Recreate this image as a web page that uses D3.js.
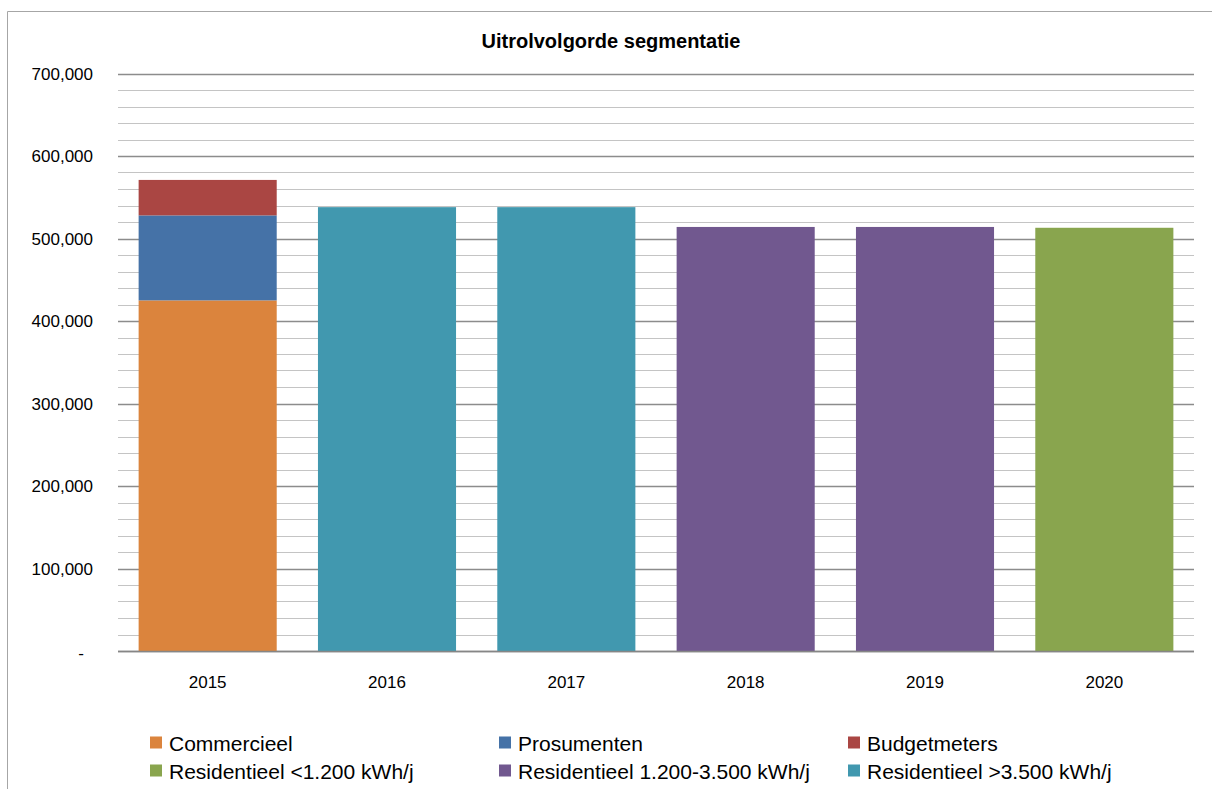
<!DOCTYPE html>
<html>
<head>
<meta charset="utf-8">
<script src="https://cdn.jsdelivr.net/npm/d3@7"></script>
<style>
  html, body { margin: 0; padding: 0; background: #ffffff; }
  svg { display: block; }
  text { font-family: "Liberation Sans", Arial, sans-serif; fill: #000; }
</style>
</head>
<body>
<svg id="chart" width="1212" height="789"></svg>
<script>
const years = ["2015", "2016", "2017", "2018", "2019", "2020"];
const seriesNames = ["Commercieel", "Prosumenten", "Budgetmeters",
  "Residentieel <1.200 kWh/j", "Residentieel 1.200-3.500 kWh/j", "Residentieel >3.500 kWh/j"];
const commercieel  = [425000, 0, 0, 0, 0, 0];
const prosumenten  = [103000, 0, 0, 0, 0, 0];
const budgetmeters = [43000, 0, 0, 0, 0, 0];
const resLow       = [0, 0, 0, 0, 0, 513000];
const resMid       = [0, 0, 0, 514000, 514000, 0];
const resHigh      = [0, 538000, 538000, 0, 0, 0];
const seriesColors = ["#DB843D", "#4572A7", "#AA4643", "#89A54E", "#71588F", "#4198AF"];
const yTickLabels = ["-", "100,000", "200,000", "300,000", "400,000", "500,000", "600,000", "700,000"];
const chartTitle = "Uitrolvolgorde segmentatie";

const seriesValues = [commercieel, prosumenten, budgetmeters, resLow, resMid, resHigh];
const table = years.map((yr, i) => {
  const row = { year: yr };
  seriesNames.forEach((s, k) => { row[s] = seriesValues[k][i]; });
  return row;
});

const svg = d3.select("#chart");

// chart border (left & top visible)
svg.append("path")
  .attr("d", "M7.5,789 V11.5 H1212")
  .attr("fill", "none").attr("stroke", "#a6a6a6").attr("stroke-width", 1);

const x = d3.scaleBand().domain(years).range([118, 1194]).paddingInner(0.23).paddingOuter(0.115);
const y = d3.scaleLinear().domain([0, 700000]).range([651, 73.5]);

// gridlines
const minor = d3.range(0, 700001, 20000);
svg.append("g").selectAll("line").data(minor).join("line")
  .attr("x1", 118).attr("x2", 1194)
  .attr("y1", d => Math.round(y(d)) + 0.5).attr("y2", d => Math.round(y(d)) + 0.5)
  .attr("stroke", d => d === 0 ? "#868686" : (d % 100000 === 0 ? "#8c8c8c" : "#c4c4c4"))
  .attr("stroke-width", d => d % 100000 === 0 ? 1.3 : 1.1);

// y axis labels
const yAxis = d3.axisLeft(y)
  .tickValues(d3.range(0, 700001, 100000))
  .tickSize(0).tickPadding(25)
  .tickFormat((d, i) => yTickLabels[i]);
const gy = svg.append("g").attr("transform", "translate(118,0)").call(yAxis);
gy.select(".domain").remove();
gy.selectAll("text")
  .attr("font-family", "'Liberation Sans', Arial, sans-serif")
  .attr("font-size", 17).attr("fill", "#000")
  .attr("dx", (d) => d === 0 ? -9 : 0)
  .attr("dy", (d) => d === 0 ? "0.45em" : "0.34em");

// bars
const stack = d3.stack().keys(seriesNames);
const stacked = stack(table);
svg.append("g").selectAll("g").data(stacked).join("g")
  .attr("fill", (d, i) => seriesColors[i])
  .selectAll("rect").data(d => d.filter(p => p[1] - p[0] > 0)).join("rect")
  .attr("x", d => x(d.data.year))
  .attr("width", x.bandwidth())
  .attr("y", d => y(d[1]))
  .attr("height", d => y(d[0]) - y(d[1]));

// x axis line
svg.append("line")
  .attr("x1", 118).attr("x2", 1194)
  .attr("y1", 651.5).attr("y2", 651.5)
  .attr("stroke", "#868686").attr("stroke-width", 1.3);

// x labels
const xAxis = d3.axisBottom(x).tickSize(0).tickPadding(25);
const gx = svg.append("g").attr("transform", "translate(0,651)").call(xAxis);
gx.select(".domain").remove();
gx.selectAll("text")
  .attr("font-family", "'Liberation Sans', Arial, sans-serif")
  .attr("font-size", 17).attr("fill", "#000");

// title
svg.append("text")
  .attr("x", 611).attr("y", 48)
  .attr("text-anchor", "middle")
  .attr("font-size", 20).attr("font-weight", "bold")
  .text(chartTitle);

// legend
const legendCols = [150, 499, 848];
const legendRows = [736.5, 764.5];
const legendOrder = [0, 1, 2, 3, 4, 5];
const lg = svg.append("g").selectAll("g").data(legendOrder).join("g")
  .attr("transform", (d, i) => `translate(${legendCols[i % 3]},${legendRows[Math.floor(i / 3)]})`);
lg.append("rect").attr("width", 12).attr("height", 12).attr("fill", d => seriesColors[d]);
lg.append("text").attr("x", 19).attr("y", 14.5)
  .attr("font-size", 21)
  .text(d => seriesNames[d]);
</script>
</body>
</html>
